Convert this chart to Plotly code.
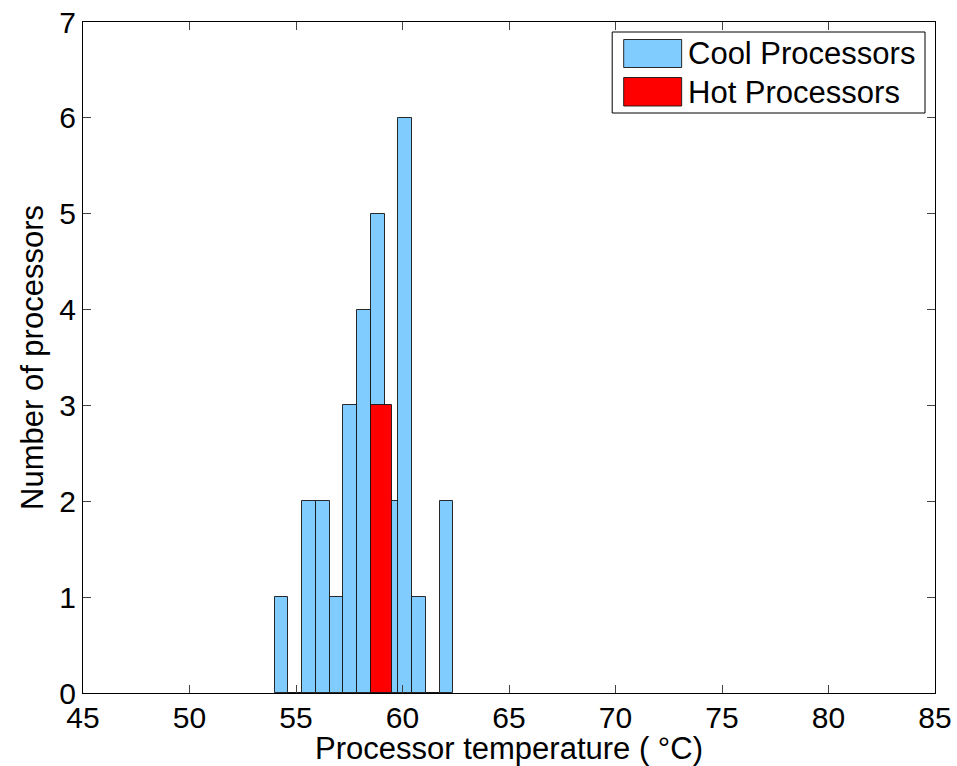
import plotly.graph_objects as go

# ---- data ----
cool_bin_centers = [54.32, 54.97, 55.61, 56.26, 56.90, 57.55, 58.20, 58.84, 59.49, 60.13, 60.78, 61.42, 62.07]
cool_counts = [1, 0, 2, 2, 1, 3, 4, 5, 2, 6, 1, 0, 2]
cool_bin_width = 0.6457
hot_bin_centers = [59.0]
hot_counts = [3]
hot_bin_width = 0.98

series_names = ["Cool Processors", "Hot Processors"]
x_tick_values = [45, 50, 55, 60, 65, 70, 75, 80, 85]
y_tick_values = [0, 1, 2, 3, 4, 5, 6, 7]
x_title = "Processor temperature ( °C)"
y_title = "Number of processors"

# ---- style ----
W, H = 957, 766
L, R, T, B = 83, 935.5, 22, 693
COOL = "rgb(128,204,255)"
HOT = "rgb(255,0,0)"
EDGE = "rgba(20,20,20,0.9)"
FONT = "Liberation Sans, Arial, Helvetica, sans-serif"

fig = go.Figure()
fig.add_trace(go.Bar(x=cool_bin_centers, y=cool_counts, width=cool_bin_width,
                     marker=dict(color=COOL, line=dict(color=EDGE, width=1)),
                     name=series_names[0], showlegend=False))
fig.add_trace(go.Bar(x=hot_bin_centers, y=hot_counts, width=hot_bin_width,
                     marker=dict(color=HOT, line=dict(color=EDGE, width=1)),
                     name=series_names[1], showlegend=False))

def px(xp):
    return (xp - L) / (R - L)

def py(yp):
    return (B - yp) / (B - T)

# custom MATLAB-like legend
shapes = [
    dict(type="rect", xref="paper", yref="paper", x0=px(612.5), x1=px(925.5), y0=py(113), y1=py(32),
         line=dict(color="black", width=1), fillcolor="white", layer="above"),
    dict(type="rect", xref="paper", yref="paper", x0=px(624), x1=px(682), y0=py(67.5), y1=py(39.5),
         line=dict(color=EDGE, width=1), fillcolor=COOL, layer="above"),
    dict(type="rect", xref="paper", yref="paper", x0=px(624), x1=px(682), y0=py(106), y1=py(77.5),
         line=dict(color=EDGE, width=1), fillcolor=HOT, layer="above"),
]
annotations = [
    dict(xref="paper", yref="paper", x=px(686), y=py(54), xanchor="left", yanchor="middle",
         text=series_names[0], showarrow=False, font=dict(size=31, color="black", family=FONT)),
    dict(xref="paper", yref="paper", x=px(686), y=py(93), xanchor="left", yanchor="middle",
         text=series_names[1], showarrow=False, font=dict(size=31, color="black", family=FONT)),
]

fig.update_layout(
    width=W, height=H,
    margin=dict(l=L, r=W - R, t=T, b=H - B, pad=0, autoexpand=False),
    paper_bgcolor="white", plot_bgcolor="white",
    barmode="overlay", bargap=0,
    font=dict(family=FONT, size=30, color="black"),
    shapes=shapes, annotations=annotations,
    showlegend=False,
)
axis_common = dict(showline=True, mirror="ticks", linecolor="black", linewidth=1,
                   ticks="inside", ticklen=8, tickwidth=1, tickcolor="#444",
                   showgrid=False, zeroline=False, automargin=False,
                   tickfont=dict(size=30, color="black", family=FONT))
fig.update_xaxes(range=[45, 85], tickvals=x_tick_values, ticktext=[str(v) for v in x_tick_values],
                 ticklabelstandoff=-2,
                 title=dict(text=x_title, font=dict(size=31, family=FONT), standoff=8),
                 **axis_common)
fig.update_yaxes(range=[0, 7], tickvals=y_tick_values, ticktext=[str(v) for v in y_tick_values],
                 title=dict(text=y_title, font=dict(size=31, family=FONT), standoff=6),
                 **axis_common)

fig.write_html("out.html")
